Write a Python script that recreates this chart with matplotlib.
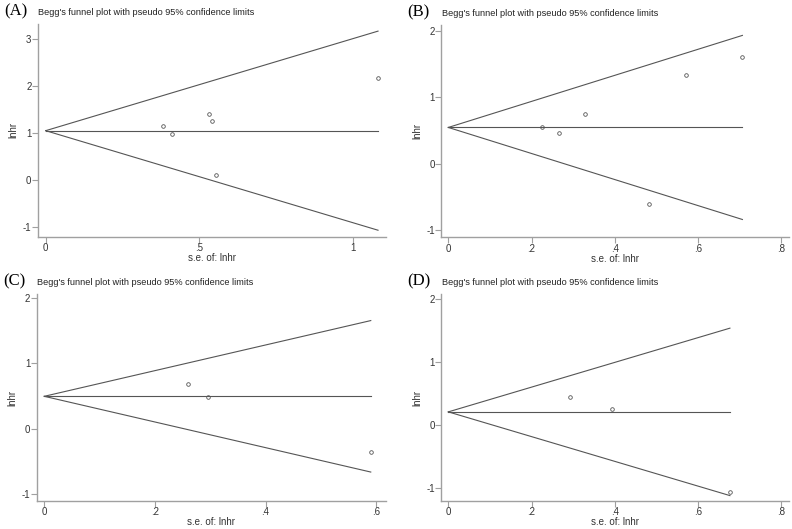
import matplotlib
matplotlib.use("Agg")
import matplotlib.pyplot as plt

plt.rcParams["axes.unicode_minus"] = False

# values
a_se = [0.383, 0.411, 0.533, 0.542, 0.556, 1.082]
a_lnhr = [1.155, 0.984, 1.40, 1.244, 0.103, 2.16]
a_pooled = 1.048

b_se = [0.2245, 0.267, 0.3295, 0.482, 0.571, 0.707]
b_lnhr = [0.549, 0.459, 0.740, -0.615, 1.327, 1.598]
b_pooled = 0.544

c_se = [0.2606, 0.295, 0.590]
c_lnhr = [0.6825, 0.4875, -0.3475]
c_pooled = 0.498

d_se = [0.293, 0.393, 0.677]
d_lnhr = [0.442, 0.254, -1.064]
d_pooled = 0.212

a_xticks = [0, 0.5, 1]
a_xlabels = ["0", ".5", "1"]
a_yticks = [-1, 0, 1, 2, 3]
bd_xticks = [0, 0.2, 0.4, 0.6, 0.8]
bd_xlabels = ["0", ".2", ".4", ".6", ".8"]
c_xticks = [0, 0.2, 0.4, 0.6]
c_xlabels = ["0", ".2", ".4", ".6"]
bcd_yticks = [-1, 0, 1, 2]

title = "Begg's funnel plot with pseudo 95% confidence limits"
axis_grey = "#a0a0a0"
line_grey = "#555555"
sans = "Liberation Sans"

fig = plt.figure(figsize=(7.92, 5.29), dpi=100)

panels = [
    # letter, rect, se, lnhr, pooled, xlim, ylim, xticks, xlabels, yticks
    ("(A)", [0.0476, 0.5526, 0.4394, 0.4020], a_se, a_lnhr, a_pooled,
     (-0.026, 1.107), (-1.21, 3.32), a_xticks, a_xlabels, a_yticks),
    ("(B)", [0.5568, 0.5514, 0.4394, 0.4013], b_se, b_lnhr, b_pooled,
     (-0.0176, 0.819), (-1.11, 2.086), bd_xticks, bd_xlabels, bcd_yticks),
    ("(C)", [0.0463, 0.0530, 0.4407, 0.3912], c_se, c_lnhr, c_pooled,
     (-0.0137, 0.617), (-1.10, 2.06), c_xticks, c_xlabels, bcd_yticks),
    ("(D)", [0.5568, 0.0530, 0.4394, 0.3912], d_se, d_lnhr, d_pooled,
     (-0.0176, 0.819), (-1.20, 2.08), bd_xticks, bd_xlabels, bcd_yticks),
]

for letter, rect, se, lnhr, pooled, xlim, ylim, xt, xl, yt in panels:
    ax = fig.add_axes(rect)
    smax = max(se)
    ax.plot([0, smax], [pooled, pooled + 1.96 * smax], color=line_grey, lw=0.8)
    ax.plot([0, smax], [pooled, pooled - 1.96 * smax], color=line_grey, lw=0.8)
    ax.plot([0, smax], [pooled, pooled], color=line_grey, lw=0.8)
    ax.plot(se, lnhr, "o", ms=2.6, mfc="none", mec=line_grey, mew=0.6)

    ax.set_xlim(*xlim)
    ax.set_ylim(*ylim)
    ax.set_xticks(xt)
    ax.set_xticklabels(xl)
    ax.set_yticks(yt)
    for s in ["top", "right"]:
        ax.spines[s].set_visible(False)
    for s in ["left", "bottom"]:
        ax.spines[s].set_color(axis_grey)
        ax.spines[s].set_linewidth(1.0)
    ax.tick_params(colors=axis_grey, labelcolor="#333333", length=4, width=0.8,
                   labelsize=7, pad=0.5)
    for lab in ax.get_xticklabels() + ax.get_yticklabels():
        lab.set_family(sans)
    ax.set_xlabel("s.e. of: lnhr", fontsize=7, family=sans, color="#333333", labelpad=0)
    ax.set_ylabel("lnhr", fontsize=7, family=sans, color="#333333", labelpad=3)

    x0 = rect[0]
    top = rect[1] + rect[3]
    fig.text(x0 - 0.042, top + 0.023, letter, fontsize=12, family="Liberation Serif",
             va="center", ha="left")
    fig.text(x0 + 0.001, top + 0.021, title, fontsize=6.6, family=sans,
             va="center", ha="left", color="#222222")

fig.savefig("out.png", dpi=100)
